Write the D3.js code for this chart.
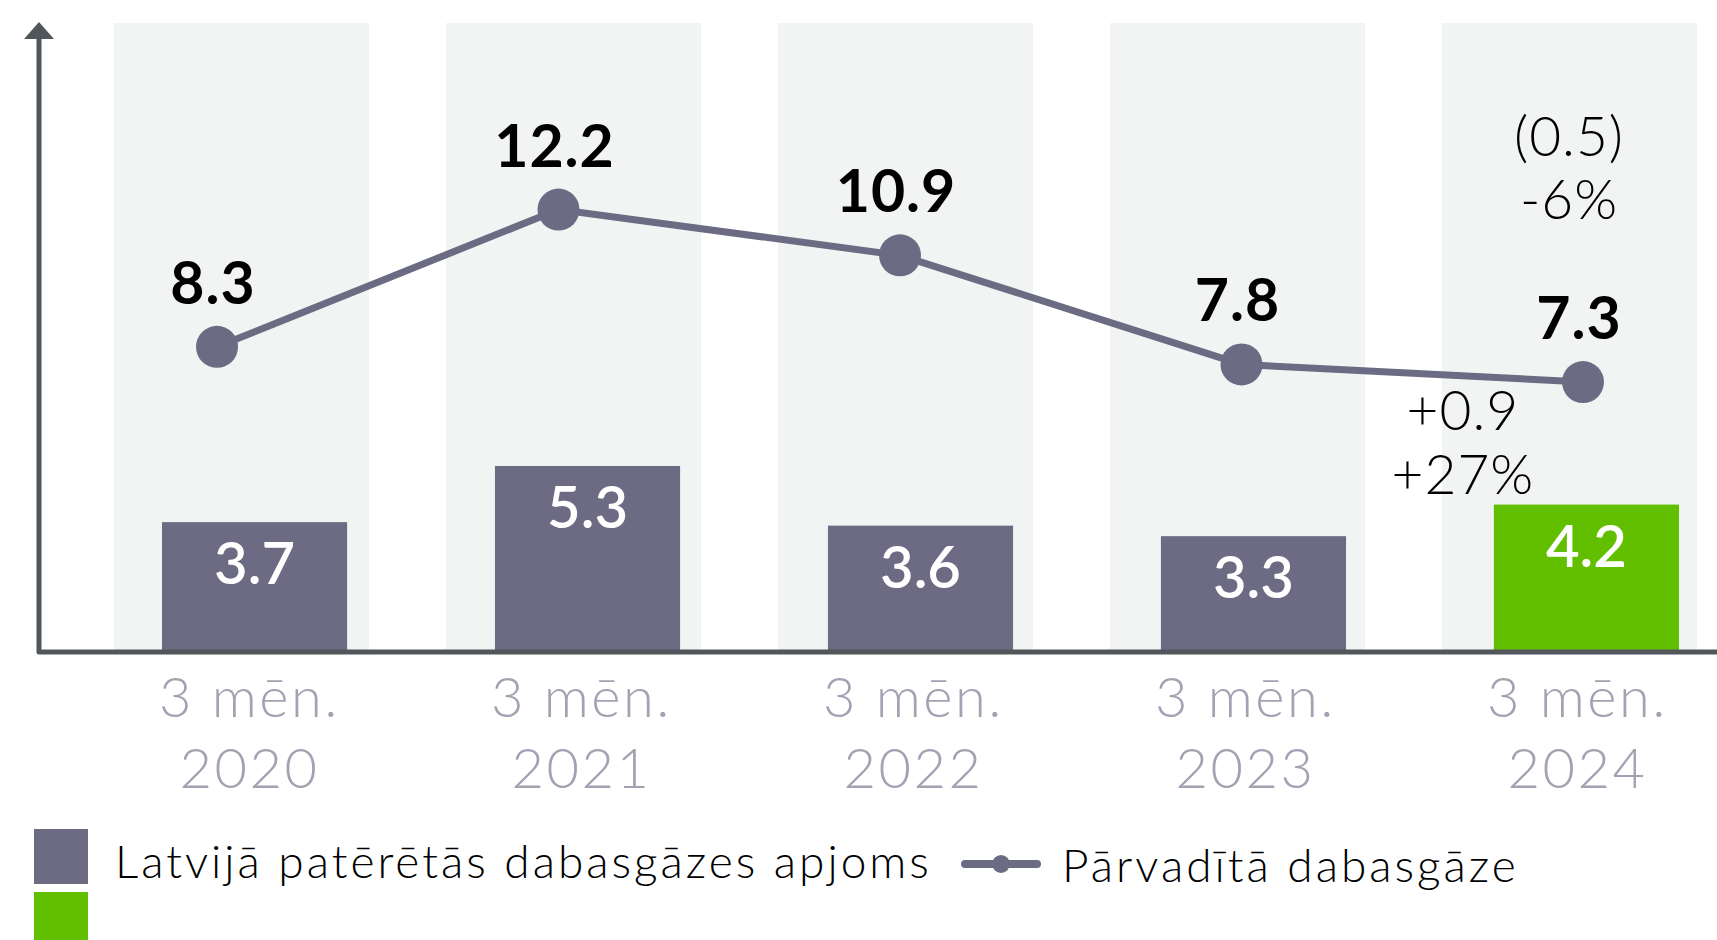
<!DOCTYPE html>
<html>
<head>
<meta charset="utf-8">
<script src="https://cdn.jsdelivr.net/npm/d3@7"></script>
<style>
  html, body { margin: 0; padding: 0; background: #fff; }
  svg { display: block; font-family: Lato, "Open Sans", sans-serif; }
</style>
</head>
<body>
<script>
const periods = ["2020", "2021", "2022", "2023", "2024"];
const periodPrefix = "3 mēn.";
const consumed = [3.7, 5.3, 3.6, 3.3, 4.2];
const transported = [8.3, 12.2, 10.9, 7.8, 7.3];
const legendLabels = ["Latvijā patērētās dabasgāzes apjoms", "Pārvadītā dabasgāze"];
const changeLine = ["(0.5)", "-6%"];
const changeBar = ["+0.9", "+27%"];

const W = 1717, H = 940;
const baseY = 652;
const barColor = "#6c6b83", lineColor = "#6b6b84", green = "#62bf00";

const svg = d3.select("body").append("svg").attr("width", W).attr("height", H);

const xBand = d3.scaleBand().domain(periods).range([114, 1697]).paddingInner(0.232);
const xBar = d3.scaleBand().domain(periods).range([162, 1679]).paddingInner(0.444);
const xPt = d3.scalePoint().domain(periods).range([217, 1583]);
const yBar = d3.scaleLinear().domain([0, 16]).range([baseY, baseY - 16 * 35.1]);
const yLine = d3.scaleLinear().domain([0, 16]).range([639, 639 - 16 * 35.2]);

// background bands
svg.selectAll(".band").data(periods).enter().append("rect")
  .attr("x", d => xBand(d)).attr("y", 23)
  .attr("width", xBand.bandwidth()).attr("height", baseY - 23)
  .attr("fill", "#f2f4f3");

// bars
svg.selectAll(".bar").data(consumed).enter().append("rect")
  .attr("x", (d, i) => xBar(periods[i]))
  .attr("y", d => yBar(d))
  .attr("width", xBar.bandwidth())
  .attr("height", d => baseY - yBar(d))
  .attr("fill", (d, i) => i === consumed.length - 1 ? green : barColor);

svg.selectAll(".barlabel").data(consumed).enter().append("text")
  .attr("x", (d, i) => xBar(periods[i]) + xBar.bandwidth() / 2)
  .attr("y", d => yBar(d) + 62)
  .attr("text-anchor", "middle")
  .attr("fill", "#fff").attr("font-size", 58).attr("font-weight", 600)
  .text(d => d.toFixed(1));

// axes
svg.append("path")
  .attr("d", `M39,38 L39,${baseY} L${W},${baseY}`)
  .attr("fill", "none").attr("stroke", "#50565a").attr("stroke-width", 5)
  .attr("stroke-linejoin", "round");
svg.append("path")
  .attr("d", "M24,39 L39,22 L54,39 Z")
  .attr("fill", "#50565a");

// line
const line = d3.line().x((d, i) => xPt(periods[i])).y(d => yLine(d));
svg.append("path").datum(transported)
  .attr("d", line).attr("fill", "none")
  .attr("stroke", lineColor).attr("stroke-width", 7);
svg.selectAll(".dot").data(transported).enter().append("circle")
  .attr("cx", (d, i) => xPt(periods[i])).attr("cy", d => yLine(d))
  .attr("r", 21).attr("fill", lineColor);
svg.selectAll(".linelabel").data(transported).enter().append("text")
  .attr("x", (d, i) => xPt(periods[i]) - 4)
  .attr("y", d => yLine(d) - 43)
  .attr("text-anchor", "middle")
  .attr("fill", "#000").attr("font-size", 59).attr("font-weight", 700)
  .attr("letter-spacing", 1)
  .text(d => d.toFixed(1));

// x labels, centred a little right of each band
const labelX = d => xBand(d) + xBand.bandwidth() / 2 + 8;
const xl = svg.selectAll(".xlab").data(periods).enter().append("text")
  .attr("text-anchor", "middle")
  .attr("fill", "#a3a2b3").attr("font-size", 56).attr("font-weight", 300)
  .attr("letter-spacing", 2.5);
xl.append("tspan").attr("x", labelX).attr("y", 717).text(periodPrefix);
xl.append("tspan").attr("x", labelX).attr("y", 788).text(d => d);

// change annotations
const last = periods[periods.length - 1];
svg.selectAll(".chg1").data(changeLine).enter().append("text")
  .attr("x", xPt(last) - 14).attr("y", (d, i) => 156 + i * 63)
  .attr("text-anchor", "middle").attr("font-size", 55).attr("font-weight", 300)
  .attr("letter-spacing", 1)
  .attr("fill", "#000").text(d => d);
svg.selectAll(".chg2").data(changeBar).enter().append("text")
  .attr("x", xBar(last) - 31).attr("y", (d, i) => 430 + i * 64)
  .attr("text-anchor", "middle").attr("font-size", 55).attr("font-weight", 300)
  .attr("letter-spacing", 1)
  .attr("fill", "#000").text(d => d);

// legend
svg.append("rect").attr("x", 34).attr("y", 829).attr("width", 54).attr("height", 55).attr("fill", barColor);
svg.append("rect").attr("x", 34).attr("y", 892).attr("width", 54).attr("height", 55).attr("fill", green);
svg.append("text").attr("x", 115).attr("y", 878)
  .attr("font-size", 46).attr("font-weight", 300).attr("fill", "#000")
  .attr("letter-spacing", 3)
  .text(legendLabels[0]);
svg.append("line").attr("x1", 965).attr("x2", 1037).attr("y1", 864).attr("y2", 864)
  .attr("stroke", lineColor).attr("stroke-width", 8).attr("stroke-linecap", "round");
svg.append("circle").attr("cx", 1001).attr("cy", 864).attr("r", 9).attr("fill", lineColor);
svg.append("text").attr("x", 1062).attr("y", 882)
  .attr("font-size", 46).attr("font-weight", 300).attr("fill", "#000")
  .attr("letter-spacing", 3)
  .text(legendLabels[1]);
</script>
</body>
</html>
